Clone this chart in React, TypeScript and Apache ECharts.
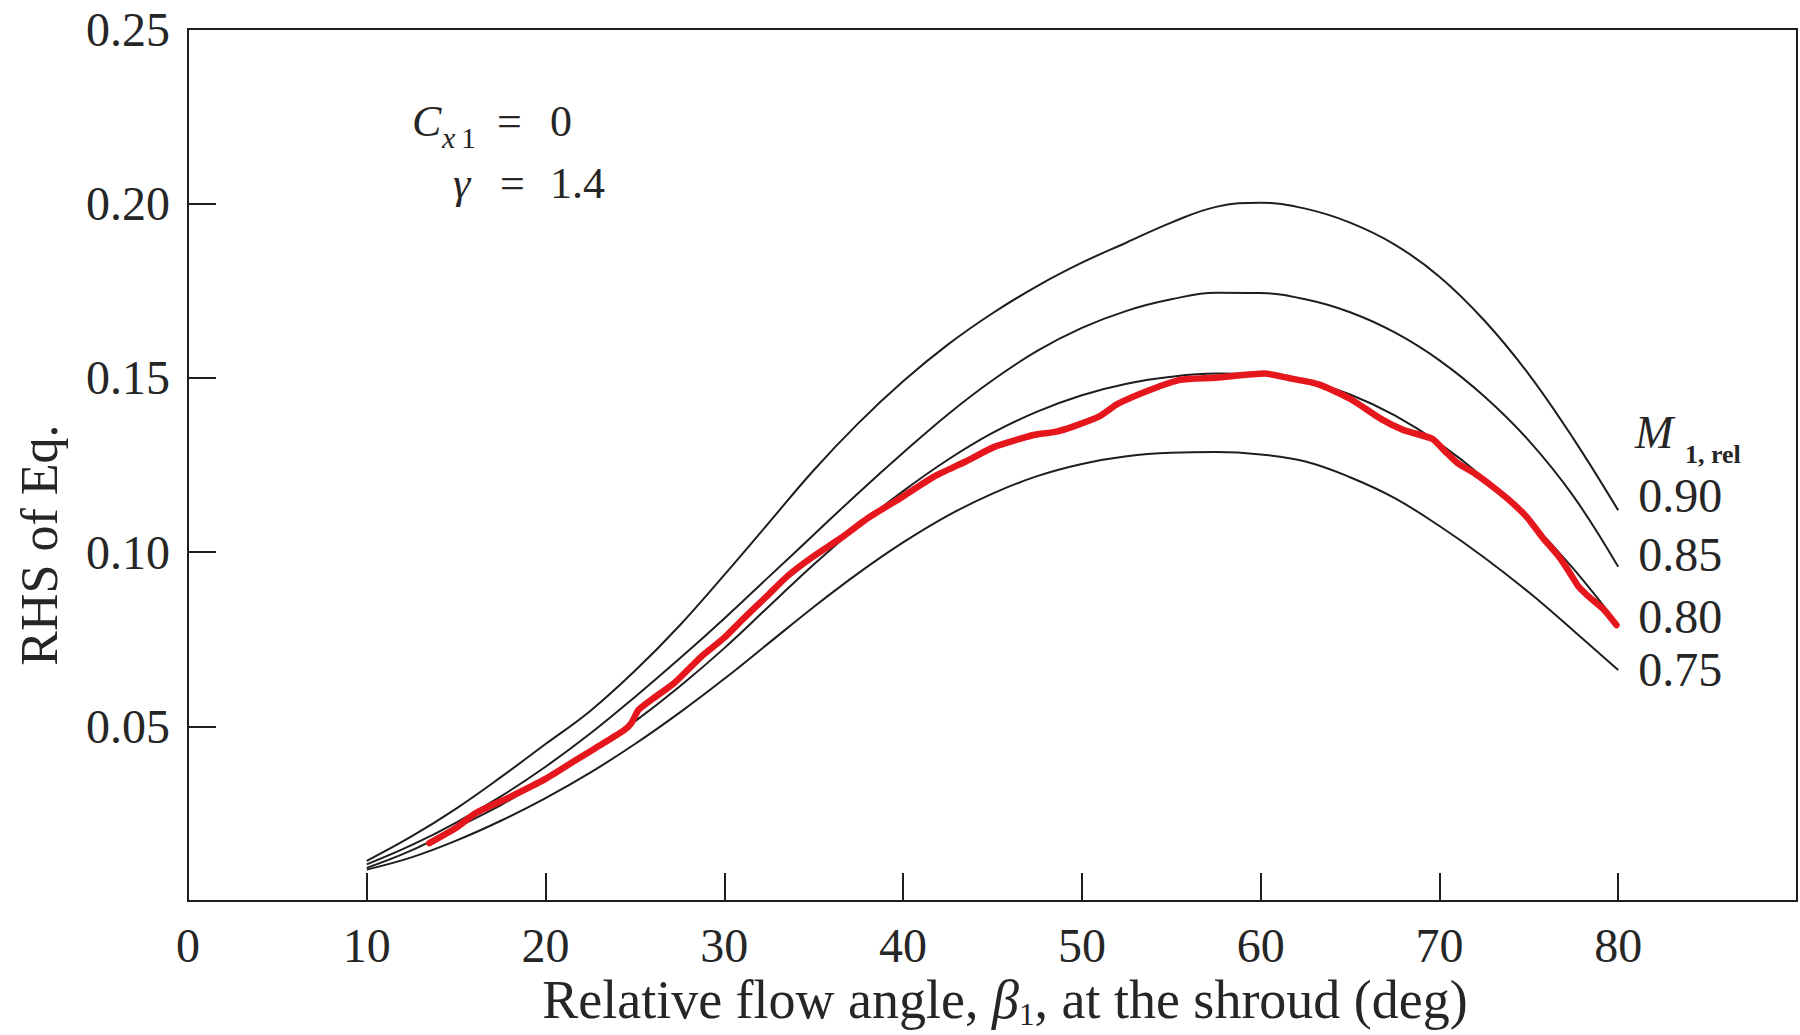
import React, { useEffect, useRef } from "react";
import * as echarts from "echarts";

const FONT = "'Liberation Serif', 'Times New Roman', serif";
const INK = "#1e1e1e";
const TEXT = "#262626";

// Relative flow angle beta_1 (deg) sample points for the printed curves
const betaDeg = [10, 12.5, 15, 17.5, 20, 22.5, 25, 27.5, 30, 32.5, 35, 37.5, 40, 42.5, 45, 47.5, 50, 52.5, 55, 57.5, 60, 62.5, 65, 67.5, 70, 72.5, 75, 77.5, 80];

// RHS values for each M_1,rel curve
const m090 = [0.0115, 0.0185, 0.0265, 0.0355, 0.045, 0.0545, 0.066, 0.079, 0.0935, 0.1085, 0.1235, 0.137, 0.149, 0.1595, 0.1685, 0.1763, 0.183, 0.1888, 0.1945, 0.199, 0.2002, 0.1985, 0.1945, 0.1882, 0.179, 0.1665, 0.151, 0.1325, 0.112];
const m085 = [0.0105, 0.016, 0.0225, 0.03, 0.0385, 0.048, 0.0585, 0.0695, 0.081, 0.093, 0.105, 0.117, 0.1285, 0.1395, 0.1493, 0.1577, 0.1643, 0.1692, 0.1725, 0.1744, 0.1743, 0.1725, 0.1688, 0.163, 0.155, 0.1447, 0.132, 0.116, 0.0958];
const m080 = [0.0095, 0.0145, 0.021, 0.0275, 0.035, 0.0425, 0.0515, 0.0615, 0.0725, 0.0845, 0.0965, 0.1075, 0.1175, 0.1265, 0.1342, 0.1403, 0.145, 0.1483, 0.1503, 0.1512, 0.151, 0.1492, 0.1452, 0.1392, 0.1312, 0.1212, 0.1092, 0.0952, 0.0792];
const m075 = [0.009, 0.0125, 0.0173, 0.023, 0.0295, 0.0368, 0.045, 0.054, 0.0637, 0.074, 0.0843, 0.094, 0.1028, 0.1105, 0.1168, 0.1218, 0.1253, 0.1275, 0.1285, 0.1287, 0.128, 0.126, 0.1215, 0.1155, 0.1075, 0.0985, 0.0885, 0.0775, 0.0662];

// Hand-drawn red trace over the 0.80 curve
const redX = [13.5, 15, 16.1, 18, 20, 21.7, 23, 24.4, 24.8, 25.2, 26, 27.2, 28.7, 30, 31, 32.5, 33.5, 34.9, 36.5, 38.1, 40, 41.7, 43.5, 45.1, 47.3, 48.5, 49.5, 51, 52, 53.8, 55.5, 57.5, 60.2, 61.5, 63.2, 65, 66.8, 68, 69.6, 70.3, 71, 72, 73, 74, 74.9, 75.8, 76.7, 77.3, 77.8, 78.3, 79.2, 79.9];
const redY = [0.0166, 0.021, 0.0252, 0.0298, 0.035, 0.0404, 0.0445, 0.049, 0.051, 0.0548, 0.058, 0.0625, 0.070, 0.0755, 0.0806, 0.088, 0.093, 0.0985, 0.104, 0.110, 0.116, 0.1216, 0.126, 0.1302, 0.1336, 0.1345, 0.136, 0.139, 0.1425, 0.1465, 0.1494, 0.150, 0.1512, 0.150, 0.1482, 0.144, 0.138, 0.135, 0.1325, 0.129, 0.1256, 0.1225, 0.1187, 0.1145, 0.110, 0.104, 0.0986, 0.094, 0.090, 0.0875, 0.0835, 0.0791];

const curveNames = ["0.90", "0.85", "0.80", "0.75"];
const curveValues = [m090, m085, m080, m075];
const labelShift = [-15, -12, -8, -1];

const xMin = 0, xMax = 90, xStep = 10;
const yMin = 0, yMax = 0.25, yStep = 0.05;

export default function App() {
  const ref = useRef<HTMLDivElement>(null);
  useEffect(() => {
    document.body.style.margin = "0";
    const chart = echarts.init(ref.current!, null, { renderer: "svg" });

    const blackSeries = curveNames.map((name, k) => ({
      type: "line",
      name,
      data: betaDeg.map((x, i) => [x, curveValues[k][i]]),
      smooth: 0.4,
      symbol: "none",
      z: 3,
      lineStyle: { color: INK, width: 2 },
      endLabel: {
        show: true,
        formatter: name,
        fontFamily: FONT,
        fontSize: 48,
        color: TEXT,
        distance: 20,
        offset: [0, labelShift[k]],
      },
    }));

    const redSeries = {
      type: "line",
      name: "trace",
      data: redX.map((x, i) => [x, redY[i]]),
      smooth: 0.2,
      symbol: "none",
      z: 5,
      lineStyle: { color: "#e5161c", width: 6.5, cap: "round", join: "round" },
    };

    const txt = (text: string, x: number, y: number, size: number, extra: any = {}) => ({
      type: "text",
      x,
      y,
      z: 10,
      style: {
        text,
        fontFamily: FONT,
        fontSize: size,
        fill: TEXT,
        align: "left",
        verticalAlign: "middle",
        ...extra,
      },
    });

    chart.setOption({
      animation: false,
      backgroundColor: "#ffffff",
      grid: {
        left: 188,
        right: 3,
        top: 29,
        bottom: 134,
        show: true,
        borderColor: INK,
        borderWidth: 2,
        backgroundColor: "transparent",
      },
      xAxis: {
        type: "value",
        min: xMin,
        max: xMax,
        interval: xStep,
        axisLine: { show: true, onZero: false, lineStyle: { color: INK, width: 2 } },
        axisTick: { show: true, inside: true, length: 28, lineStyle: { color: INK, width: 2 } },
        axisLabel: {
          formatter: (v: number) => (v === xMax ? "" : String(v)),
          fontFamily: FONT,
          fontSize: 48,
          color: TEXT,
          margin: 20,
        },
        splitLine: { show: false },
      },
      yAxis: {
        type: "value",
        min: yMin,
        max: yMax,
        interval: yStep,
        axisLine: { show: true, onZero: false, lineStyle: { color: INK, width: 2 } },
        axisTick: { show: true, inside: true, length: 28, lineStyle: { color: INK, width: 2 } },
        axisLabel: {
          formatter: (v: number) => (v === 0 ? "" : v.toFixed(2)),
          fontFamily: FONT,
          fontSize: 48,
          color: TEXT,
          margin: 18,
        },
        splitLine: { show: false },
      },
      series: [...blackSeries, redSeries],
      graphic: [
        // y axis title
        {
          type: "text",
          x: 39,
          y: 545,
          rotation: Math.PI / 2,
          z: 10,
          style: {
            text: "RHS of Eq.",
            fontFamily: FONT,
            fontSize: 52,
            fill: TEXT,
            align: "center",
            verticalAlign: "middle",
          },
        },
        // x axis title
        {
          type: "text",
          x: 1005,
          y: 1000,
          z: 10,
          style: {
            text: "Relative flow angle, {b|β}{s|1}, at the shroud (deg)",
            fontFamily: FONT,
            fontSize: 54,
            fill: TEXT,
            align: "center",
            verticalAlign: "middle",
            lineHeight: 60,
            rich: {
              b: { fontFamily: FONT, fontSize: 54, fontStyle: "italic", fill: TEXT, lineHeight: 60 },
              s: { fontFamily: FONT, fontSize: 31, fill: TEXT, verticalAlign: "bottom", lineHeight: 31 },
            },
          },
        },
        // annotation C_x1 = 0
        txt("C", 412, 121, 44, { fontStyle: "italic" }),
        txt("x", 442, 137, 30, { fontStyle: "italic" }),
        txt("1", 461, 137, 30),
        txt("=", 497, 121, 44),
        txt("0", 550, 121, 44),
        // gamma = 1.4
        txt("γ", 453, 183, 44, { fontStyle: "italic" }),
        txt("=", 500, 183, 44),
        txt("1.4", 550, 183, 44),
        // M_1,rel header
        txt("M", 1635, 432, 46, { fontStyle: "italic" }),
        txt("1, rel", 1685, 454, 26, { fontWeight: "bold" }),
      ],
    });

    return () => chart.dispose();
  }, []);

  return (
    <div
      ref={ref}
      style={{ position: "fixed", left: 0, top: 0, width: 1800, height: 1035, background: "#ffffff" }}
    />
  );
}
